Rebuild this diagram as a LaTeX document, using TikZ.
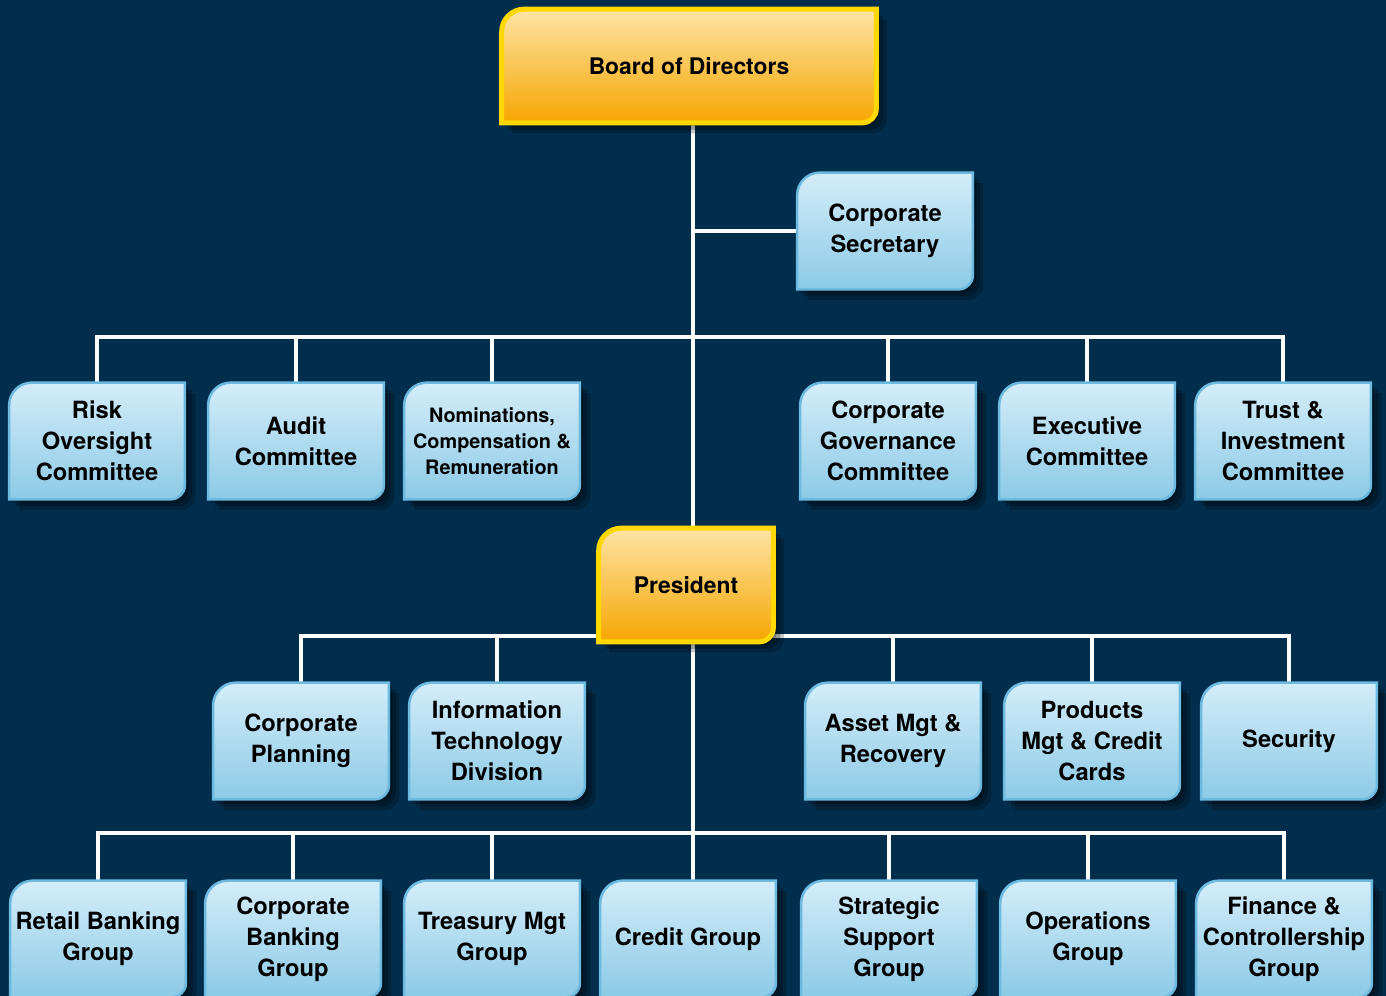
\documentclass[tikz,border=0pt]{standalone}
\usepackage{fontspec}
\setmainfont{TeX Gyre Heros}
\usepackage{tikz}
\usetikzlibrary{positioning}
\pgfdeclarelayer{back}
\pgfsetlayers{back,main}
\definecolor{navy}{HTML}{022E4D}
\definecolor{goldtop}{HTML}{FDE4A6}
\definecolor{goldbot}{HTML}{F6A600}
\definecolor{goldrim}{HTML}{FFD800}
\definecolor{skytop}{HTML}{D4EDF9}
\definecolor{skybot}{HTML}{8CCAE6}
\definecolor{skyrim}{HTML}{6CBADF}
% outline with two rounded corners (top left, bottom right)
\newcommand\boxoutline[1]{(#1.south west) -- ([yshift=-0.45cm]#1.north west)
  arc[start angle=180,end angle=90,radius=0.45cm] -- (#1.north east)
  -- ([yshift=0.28cm]#1.south east) arc[start angle=0,end angle=-90,radius=0.28cm] -- cycle}

\begin{document}
\begin{tikzpicture}[x=0.02cm, y=-0.02cm,
        unit/.style={minimum width=3.5cm, minimum height=2.32cm, inner sep=0pt, align=center,
            font=\fontsize{13.5}{17.6}\selectfont\bfseries},
        smallunit/.style={unit, font=\fontsize{11.3}{14.8}\selectfont\bfseries},
        chief/.style={unit, minimum height=2.26cm, font=\fontsize{13}{17}\selectfont\bfseries},
        link/.style={draw=white, line width=0.08cm},
        skyfill/.style={top color=skytop, bottom color=skybot, draw=skyrim, line width=0.05cm},
        goldfill/.style={top color=goldtop, bottom color=goldbot, draw=goldrim, line width=0.1cm},
        shade/.style={fill=black, opacity=0.22}]
        \useasboundingbox (0,0) rectangle (1386,996);
        % top
        \node[chief, minimum width=7.48cm] (board) at (689,66) {Board of Directors};
        \node[unit] (secretary) at (885,231) {Corporate\\Secretary};
        % committees
        \node[unit] (risk) at (97,441) {Risk\\Oversight\\Committee};
        \node[unit] (audit) at (296,441) {Audit\\Committee};
        \node[smallunit] (nominations) at (492,441) {Nominations,\\Compensation \&\\Remuneration};
        \node[unit] (governance) at (888,441) {Corporate\\Governance\\Committee};
        \node[unit] (executive) at (1087,441) {Executive\\Committee};
        \node[unit] (trust) at (1283,441) {Trust \&\\Investment\\Committee};
        % president and staff
        \node[chief, minimum width=3.48cm] (president) at (686,585) {President};
        \node[unit] (planning) at (301,741) {Corporate\\Planning};
        \node[unit] (infotech) at (497,741) {Information\\Technology\\Division};
        \node[unit] (assetmgt) at (893,741) {Asset Mgt \&\\Recovery};
        \node[unit] (products) at (1092,741) {Products\\Mgt \& Credit\\Cards};
        \node[unit] (security) at (1289,741) {Security};
        % groups
        \node[unit] (retail) at (98,939) {Retail Banking\\Group};
        \node[unit] (corpbank) at (293,939) {Corporate\\Banking\\Group};
        \node[unit] (treasury) at (492,939) {Treasury Mgt\\Group};
        \node[unit] (credit) at (688,939) {Credit Group};
        \node[unit] (strategic) at (889,939) {Strategic\\Support\\Group};
        \node[unit] (operations) at (1088,939) {Operations\\Group};
        \node[unit] (finance) at (1284,939) {Finance \&\\Controllership\\Group};
        \coordinate (bus1) at (693,337);
        \coordinate (bus2) at (693,636);
        \coordinate (bus3) at (693,833);
        \begin{pgfonlayer}{back}
            \fill[navy] (0,0) rectangle (1386,996);
            % connectors
            \draw[link] (board.south -| bus1) -- (credit.north -| bus1);
            \draw[link] (secretary.west) -- (secretary.west -| bus1);
            \draw[link] (risk.north) -- (risk.north |- bus1) -- (trust.north |- bus1) -- (trust.north);
            \foreach \n in {audit,nominations,governance,executive}
                \draw[link] (\n.north) -- (\n.north |- bus1);
            \draw[link] (planning.north) -- (planning.north |- bus2) -- (security.north |- bus2) -- (security.north);
            \foreach \n in {infotech,assetmgt,products}
                \draw[link] (\n.north) -- (\n.north |- bus2);
            \draw[link] (retail.north) -- (retail.north |- bus3) -- (finance.north |- bus3) -- (finance.north);
            \foreach \n in {corpbank,treasury,strategic,operations}
                \draw[link] (\n.north) -- (\n.north |- bus3);
            % boxes
            \foreach \n in {board,secretary,risk,audit,nominations,governance,executive,trust,
                    president,planning,infotech,assetmgt,products,security,
                    retail,corpbank,treasury,credit,strategic,operations,finance}{
                \foreach \s in {2pt,4pt,6pt}
                    \fill[shade, transform canvas={xshift=\s, yshift=-\s}] \boxoutline{\n};
            }
            \foreach \n in {secretary,risk,audit,nominations,governance,executive,trust,
                    planning,infotech,assetmgt,products,security,
                    retail,corpbank,treasury,credit,strategic,operations,finance}
                \path[skyfill] \boxoutline{\n};
            \foreach \n in {board,president}
                \path[goldfill] \boxoutline{\n};
        \end{pgfonlayer}
\end{tikzpicture}
\end{document}
